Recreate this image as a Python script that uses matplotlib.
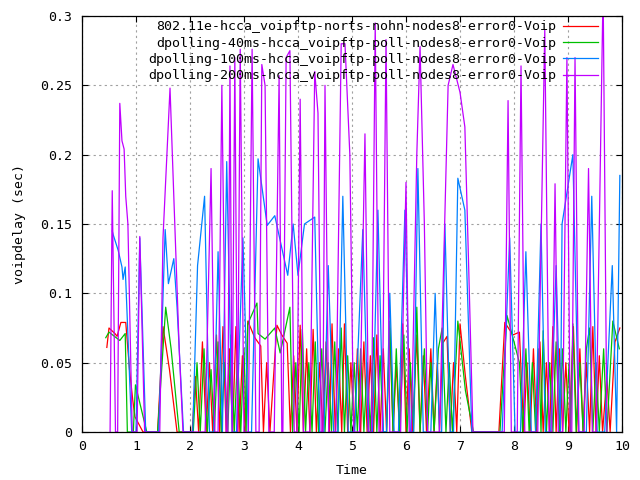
import matplotlib
matplotlib.use("Agg")
import matplotlib.pyplot as plt

plt.rcParams['font.family'] = ['DejaVu Sans Mono']

labels = [
    "802.11e-hcca_voipftp-norts-nohn-nodes8-error0-Voip",
    "dpolling-40ms-hcca_voipftp-poll-nodes8-error0-Voip",
    "dpolling-100ms-hcca_voipftp-poll-nodes8-error0-Voip",
    "dpolling-200ms-hcca_voipftp-poll-nodes8-error0-Voip",
]
colors = ["#ff0000", "#00c000", "#0080ff", "#c000ff"]

t_red = [0.46, 0.50, 0.61, 0.65, 0.72, 0.81, 0.88, 0.94, 0.98, 1.13,
         1.40, 1.50, 1.62, 1.76,
         2.04, 2.10, 2.16, 2.23, 2.30, 2.36, 2.42, 2.49, 2.55, 2.61,
         2.67, 2.73, 2.79, 2.85, 2.91, 2.97, 3.02, 3.07, 3.20, 3.31,
         3.36, 3.42, 3.48, 3.61, 3.70, 3.80, 3.86, 3.92, 3.98, 4.04,
         4.10, 4.16, 4.22, 4.28, 4.34, 4.40, 4.46, 4.52, 4.58, 4.63,
         4.69, 4.75, 4.81, 4.86, 4.92, 4.98, 5.04, 5.10, 5.16, 5.22,
         5.28, 5.34, 5.40, 5.46, 5.52, 5.58, 5.64, 5.70, 5.76, 5.82,
         5.88, 5.94, 6.00, 6.06, 6.12, 6.20, 6.26, 6.32, 6.38, 6.46,
         6.52, 6.58, 6.62, 6.68, 6.76, 6.82, 6.88, 6.94, 7.00, 7.10,
         7.22,
         7.72, 7.83, 7.98, 8.10, 8.18, 8.24, 8.30, 8.36, 8.42, 8.48,
         8.54, 8.60, 8.66, 8.72, 8.78, 8.84, 8.90, 8.96, 9.02, 9.10,
         9.16, 9.22, 9.28, 9.34, 9.40, 9.46, 9.52, 9.58, 9.64, 9.72,
         9.78, 9.87, 9.96]
v_red = [0.061, 0.075, 0.071, 0.069, 0.079, 0.079, 0.045, 0.023, 0.011, 0.0,
         0.0, 0.076, 0.045, 0.0,
         0.0, 0.040, 0.0, 0.065, 0.0, 0.050, 0.0, 0.070, 0.0, 0.076,
         0.0, 0.060, 0.0, 0.076, 0.0, 0.055, 0.0, 0.080, 0.068, 0.062,
         0.0, 0.050, 0.0, 0.077, 0.070, 0.064, 0.0, 0.055, 0.0, 0.077,
         0.0, 0.060, 0.0, 0.074, 0.0, 0.050, 0.0, 0.065, 0.0, 0.078,
         0.0, 0.060, 0.0, 0.078, 0.0, 0.050, 0.0, 0.060, 0.0, 0.065,
         0.0, 0.055, 0.0, 0.070, 0.0, 0.060, 0.0, 0.075, 0.0, 0.050,
         0.0, 0.078, 0.0, 0.060, 0.0, 0.070, 0.0, 0.055, 0.0, 0.060,
         0.0, 0.050, 0.0, 0.064, 0.069, 0.0, 0.050, 0.0, 0.078, 0.040,
         0.0,
         0.0, 0.079, 0.070, 0.072, 0.0, 0.050, 0.0, 0.060, 0.0, 0.065,
         0.0, 0.050, 0.0, 0.076, 0.0, 0.060, 0.0, 0.050, 0.0, 0.076,
         0.0, 0.060, 0.0, 0.050, 0.0, 0.076, 0.0, 0.055, 0.0, 0.040,
         0.0, 0.065, 0.075]

t_green = [0.44, 0.50, 0.70, 0.80, 0.84, 0.95, 0.99, 1.20,
           1.40, 1.55, 1.65, 1.80,
           2.06, 2.13, 2.19, 2.26, 2.32, 2.39, 2.45, 2.52, 2.58, 2.64,
           2.70, 2.76, 2.82, 2.88, 2.94, 3.00, 3.04, 3.07, 3.24, 3.26,
           3.39, 3.57, 3.67, 3.85, 3.90, 3.96, 4.02, 4.08, 4.14, 4.20,
           4.26, 4.32, 4.38, 4.44, 4.50, 4.56, 4.62, 4.68, 4.74, 4.80,
           4.86, 4.92, 4.98, 5.04, 5.10, 5.16, 5.22, 5.28, 5.34, 5.40,
           5.46, 5.52, 5.58, 5.64, 5.70, 5.76, 5.82, 5.88, 5.96, 6.02,
           6.08, 6.14, 6.20, 6.26, 6.34, 6.40, 6.46, 6.52, 6.60, 6.67,
           6.74, 6.80, 6.86, 6.96, 7.10, 7.25,
           7.74, 7.87, 8.00, 8.10, 8.16, 8.22, 8.28, 8.34, 8.40, 8.46,
           8.50, 8.54, 8.60, 8.66, 8.72, 8.78, 8.84, 8.90, 8.96, 9.02,
           9.05, 9.09, 9.15, 9.22, 9.28, 9.34, 9.40, 9.46, 9.52, 9.58,
           9.66, 9.72, 9.83, 9.95]
v_green = [0.068, 0.072, 0.066, 0.071, 0.0, 0.0, 0.034, 0.0,
           0.0, 0.090, 0.060, 0.0,
           0.0, 0.050, 0.0, 0.060, 0.0, 0.045, 0.0, 0.065, 0.0, 0.050,
           0.0, 0.070, 0.0, 0.055, 0.0, 0.060, 0.0, 0.078, 0.093, 0.071,
           0.067, 0.075, 0.057, 0.090, 0.0, 0.050, 0.0, 0.074, 0.0, 0.050,
           0.0, 0.065, 0.0, 0.060, 0.0, 0.050, 0.0, 0.065, 0.0, 0.075,
           0.0, 0.055, 0.0, 0.050, 0.0, 0.060, 0.0, 0.050, 0.0, 0.068,
           0.0, 0.055, 0.0, 0.0, 0.080, 0.0, 0.060, 0.0, 0.070, 0.0,
           0.050, 0.0, 0.090, 0.0, 0.060, 0.0, 0.050, 0.0, 0.060, 0.075,
           0.0, 0.050, 0.0, 0.080, 0.030, 0.0,
           0.0, 0.084, 0.065, 0.050, 0.0, 0.060, 0.0, 0.050, 0.0, 0.060,
           0.0, 0.073, 0.0, 0.050, 0.0, 0.065, 0.0, 0.060, 0.0, 0.050,
           0.0, 0.078, 0.0, 0.050, 0.0, 0.060, 0.075, 0.0, 0.050, 0.0,
           0.060, 0.0, 0.080, 0.060]

t_blue = [0.56, 0.58, 0.67, 0.74, 0.76, 0.80, 0.83, 0.92, 1.00, 1.07,
          1.18, 1.42, 1.54, 1.60, 1.70, 1.76, 1.88, 2.05, 2.14, 2.27,
          2.36, 2.44, 2.52, 2.60, 2.68, 2.78, 2.86, 2.98, 3.08, 3.14,
          3.26, 3.43, 3.57, 3.81, 3.91, 4.00, 4.12, 4.31, 4.40, 4.48,
          4.56, 4.66, 4.74, 4.83, 4.93, 5.05, 5.20, 5.30, 5.38, 5.48,
          5.58, 5.64, 5.70, 5.78, 5.86, 5.98, 6.08, 6.14, 6.22, 6.32,
          6.46, 6.54, 6.62, 6.66, 6.72, 6.82, 6.88, 6.96, 7.09, 7.22,
          7.78, 7.92, 8.02, 8.12, 8.22, 8.32, 8.40, 8.50, 8.58, 8.68,
          8.78, 8.86, 8.89, 9.09, 9.20, 9.34, 9.44, 9.54, 9.68, 9.82,
          9.90, 9.96]
v_blue = [0.145, 0.142, 0.131, 0.119, 0.110, 0.119, 0.090, 0.0, 0.0, 0.140,
          0.0, 0.0, 0.146, 0.107, 0.125, 0.090, 0.0, 0.0, 0.120, 0.170,
          0.0, 0.0, 0.130, 0.0, 0.195, 0.0, 0.0, 0.140, 0.0, 0.0,
          0.197, 0.149, 0.156, 0.113, 0.150, 0.113, 0.150, 0.155, 0.0, 0.0,
          0.120, 0.0, 0.0, 0.170, 0.0, 0.0, 0.146, 0.0, 0.0, 0.160,
          0.0, 0.0, 0.100, 0.0, 0.0, 0.160, 0.0, 0.0, 0.190, 0.0,
          0.0, 0.100, 0.0, 0.0, 0.150, 0.0, 0.0, 0.183, 0.160, 0.0,
          0.0, 0.140, 0.0, 0.0, 0.130, 0.0, 0.0, 0.150, 0.0, 0.0,
          0.120, 0.0, 0.150, 0.200, 0.0, 0.0, 0.170, 0.0, 0.0, 0.120,
          0.0, 0.185]

t_purple = [0.52, 0.56, 0.62, 0.66, 0.70, 0.74, 0.78, 0.81, 0.85, 0.93,
            1.02, 1.07, 1.16, 1.44, 1.50, 1.63, 1.70, 1.80, 1.87, 2.28,
            2.39, 2.46, 2.52, 2.59, 2.67, 2.70, 2.74, 2.78, 2.83, 2.88,
            2.93, 3.00, 3.08, 3.15, 3.22, 3.28, 3.33, 3.39, 3.46, 3.56,
            3.65, 3.70, 3.72, 3.78, 3.85, 3.93, 3.98, 4.04, 4.10, 4.22,
            4.31, 4.37, 4.43, 4.46, 4.50, 4.57, 4.70, 4.80, 4.87, 4.96,
            5.03, 5.14, 5.24, 5.31, 5.36, 5.43, 5.50, 5.56, 5.63, 5.70,
            5.90, 6.00, 6.06, 6.10, 6.20, 6.26, 6.34, 6.40, 6.62, 6.78,
            6.87, 7.00, 7.09, 7.16, 7.24, 7.82, 7.89, 7.95, 8.06, 8.13,
            8.20, 8.44, 8.57, 8.65, 8.70, 8.76, 8.82, 8.90, 8.98, 9.04,
            9.07, 9.13, 9.20, 9.30, 9.38, 9.45, 9.52, 9.65, 9.72]
v_purple = [0.0, 0.174, 0.0, 0.0, 0.237, 0.210, 0.204, 0.170, 0.150, 0.0,
            0.0, 0.141, 0.0, 0.0, 0.140, 0.248, 0.170, 0.060, 0.0, 0.0,
            0.190, 0.0, 0.0, 0.250, 0.0, 0.0, 0.264, 0.0, 0.270, 0.0,
            0.276, 0.0, 0.0, 0.276, 0.0, 0.0, 0.265, 0.250, 0.0, 0.0,
            0.257, 0.0, 0.0, 0.270, 0.275, 0.0, 0.0, 0.240, 0.0, 0.0,
            0.260, 0.230, 0.0, 0.0, 0.250, 0.0, 0.0, 0.280, 0.280, 0.200,
            0.0, 0.0, 0.215, 0.0, 0.0, 0.295, 0.0, 0.0, 0.283, 0.0,
            0.0, 0.180, 0.0, 0.0, 0.200, 0.278, 0.150, 0.0, 0.0, 0.250,
            0.265, 0.245, 0.220, 0.120, 0.0, 0.0, 0.239, 0.0, 0.0, 0.264,
            0.0, 0.0, 0.290, 0.0, 0.0, 0.179, 0.0, 0.0, 0.270, 0.0,
            0.0, 0.270, 0.0, 0.0, 0.190, 0.0, 0.0, 0.320, 0.0]

x_ticks = [0, 1, 2, 3, 4, 5, 6, 7, 8, 9, 10]
y_ticks = [0, 0.05, 0.1, 0.15, 0.2, 0.25, 0.3]
y_tick_labels = ["0", "0.05", "0.1", "0.15", "0.2", "0.25", "0.3"]

fig = plt.figure(figsize=(6.4, 4.8), dpi=100)
ax = fig.add_axes([82 / 640, 1 - 432 / 480, 540 / 640, 416 / 480])

series = [(t_red, v_red), (t_green, v_green), (t_blue, v_blue), (t_purple, v_purple)]
for (tt, vv), lab, col in zip(series, labels, colors):
    ax.plot(tt, vv, color=col, lw=0.9, label=lab)

ax.set_xlim(0, 10)
ax.set_ylim(0, 0.3)
ax.set_xticks(x_ticks)
ax.set_xticklabels([str(v) for v in x_ticks])
ax.set_yticks(y_ticks)
ax.set_yticklabels(y_tick_labels)
ax.tick_params(direction='in', top=True, right=True, length=4, width=0.8,
               labelsize=9.5, colors='black')
ax.tick_params(axis='y', pad=7)
ax.tick_params(axis='x', pad=6)
ax.grid(True, color='#a0a0a0', linestyle=(0, (2, 3)), linewidth=0.8)
for s in ax.spines.values():
    s.set_linewidth(0.9)

ax.set_xlabel("Time", fontsize=9.5, labelpad=8)
ax.set_ylabel("voipdelay (sec)", fontsize=9.5, labelpad=10)

leg = ax.legend(loc='upper right', bbox_to_anchor=(0.972, 1.012), frameon=False,
                markerfirst=False, fontsize=9.5, handlelength=2.6,
                handletextpad=0.55, labelspacing=0.25, borderaxespad=0.3)

fig.savefig("out.png", dpi=100)
